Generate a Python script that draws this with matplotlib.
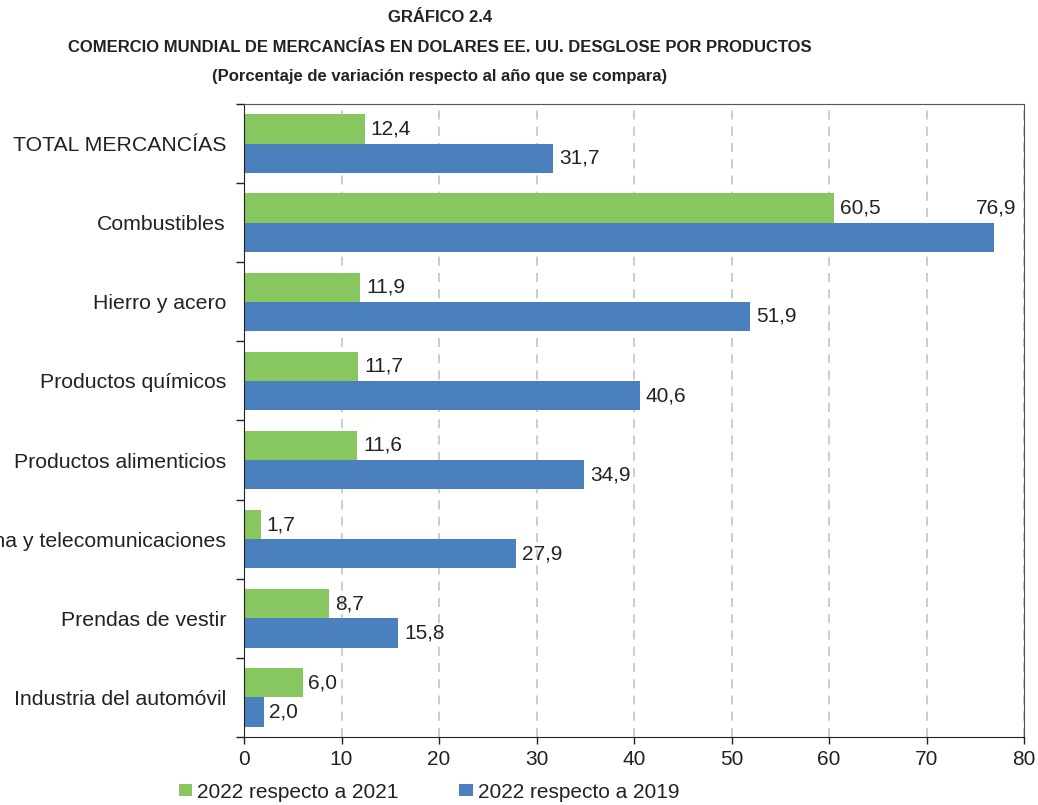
import matplotlib
matplotlib.use("Agg")
from matplotlib import pyplot as plt
from matplotlib.ticker import FixedLocator
import numpy as np

categorias = ["TOTAL MERCANCÍAS", "Combustibles", "Hierro y acero", "Productos químicos",
              "Productos alimenticios", "Equipos de oficina y telecomunicaciones",
              "Prendas de vestir", "Industria del automóvil"]
var_2021 = [12.4, 60.5, 11.9, 11.7, 11.6, 1.7, 8.7, 6.0]
var_2019 = [31.7, 76.9, 51.9, 40.6, 34.9, 27.9, 15.8, 2.0]
serie_nombres = ["2022 respecto a 2021", "2022 respecto a 2019"]
xticks = [0, 10, 20, 30, 40, 50, 60, 70, 80]

verde = "#88c65f"
azul = "#4b80bf"

plt.rcParams["font.family"] = ["Liberation Sans", "DejaVu Sans"]
fs = 15

fig = plt.figure(figsize=(10.38, 8.05), dpi=100)
ax = fig.add_axes([244/1038, 68/805, 780/1038, 633/805])

y = np.arange(len(categorias))
h = 0.37
b1 = ax.barh(y - h/2, var_2021, height=h, color=verde, label=serie_nombres[0])
b2 = ax.barh(y + h/2, var_2019, height=h, color=azul, label=serie_nombres[1])

def fmt(v):
    return "{:.1f}".format(v).replace(".", ",")

for yi, v in zip(y, var_2021):
    ax.text(v + 0.6, yi - h/2, fmt(v), va="center", ha="left", fontsize=fs, color="#222222")
for yi, v in zip(y, var_2019):
    if v > 74:
        ax.text(v + 2.3, yi - h/2, fmt(v), va="center", ha="right", fontsize=fs, color="#222222")
    else:
        ax.text(v + 0.6, yi + h/2, fmt(v), va="center", ha="left", fontsize=fs, color="#222222")

ax.set_xlim(0, 80)
ax.set_ylim(len(categorias) - 0.5, -0.5)
ax.set_xticks(xticks)
ax.set_xticklabels([str(t) for t in xticks], fontsize=fs, color="#222222")
ax.set_yticks(y)
ax.set_yticklabels(categorias, fontsize=15.3, color="#222222")
ax.tick_params(axis="y", length=0, pad=13)
ax.yaxis.set_minor_locator(FixedLocator(np.arange(-0.5, len(categorias), 1.0)))
ax.tick_params(axis="y", which="minor", length=6, width=1, color="#222222")
ax.tick_params(axis="x", length=5, width=1, color="#222222", pad=4)

ax.grid(axis="x", color="#c8c8c8", linestyle=(0, (5, 4)), linewidth=1.3)
ax.set_axisbelow(True)
for s in ["top", "right"]:
    ax.spines[s].set_color("#555555")
ax.spines["left"].set_color("#222222")
ax.spines["bottom"].set_color("#222222")

tit = dict(ha="center", va="center", fontsize=12, fontweight="bold", color="#222222")
fig.text(440/1038, 1 - 18/805, "GRÁFICO 2.4", **tit)
fig.text(440/1038, 1 - 47.5/805,
         "COMERCIO MUNDIAL DE MERCANCÍAS EN DOLARES EE. UU. DESGLOSE POR PRODUCTOS", **tit)
fig.text(440/1038, 1 - 77/805, "(Porcentaje de variación respecto al año que se compara)", **tit)

leg = fig.legend(handles=[b1, b2], loc="center", bbox_to_anchor=(429/1038, 13/805),
                 ncol=2, frameon=False, fontsize=fs, handlelength=0.65, handleheight=0.55,
                 handletextpad=0.25, columnspacing=2.9)
for t in leg.get_texts():
    t.set_color("#222222")

fig.savefig("out.png", dpi=100)
